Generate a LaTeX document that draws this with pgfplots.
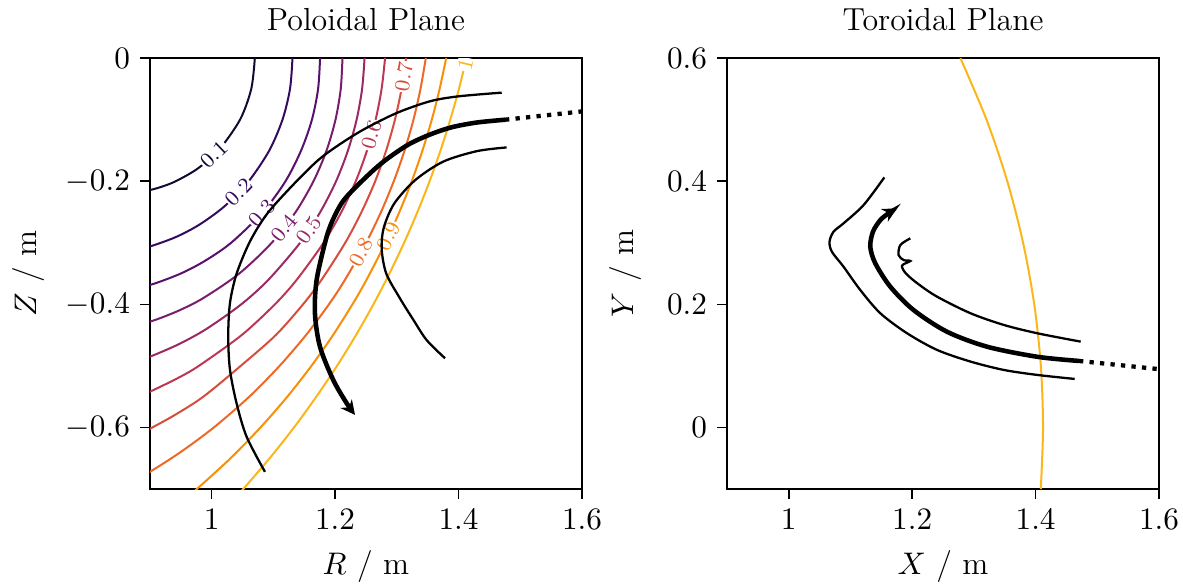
\documentclass[border=0pt]{standalone}
\usepackage{pgfplots}
\pgfplotsset{compat=1.18}
\usetikzlibrary{arrows.meta}
\definecolor{c01}{RGB}{18,10,50}
\definecolor{c02}{RGB}{50,10,94}
\definecolor{c03}{RGB}{87,16,110}
\definecolor{c04}{RGB}{120,28,109}
\definecolor{c05}{RGB}{154,40,99}
\definecolor{c06}{RGB}{188,55,84}
\definecolor{c07}{RGB}{213,77,61}
\definecolor{c08}{RGB}{237,105,37}
\definecolor{c09}{RGB}{249,142,9}
\definecolor{c10}{RGB}{251,182,26}
\tikzset{clab/.style={font=\fontsize{7.5}{8}\selectfont, fill=white, inner sep=0.4pt}}
\newcommand{\bigf}{\fontsize{11.2}{13.4}\selectfont}
\begin{document}
\begin{tikzpicture}
\pgfplotsset{
  myax/.style={scale only axis, width=151.6pt, height=151.2pt,
    xmin=0.9, xmax=1.6, xtick={1,1.2,1.4,1.6},
    tick align=outside, major tick length=3.5pt,
    xtick pos=left, ytick pos=left,
    axis line style={line width=0.6pt, black},
    tick style={line width=0.6pt, black},
    title style={font=\bigf},
    label style={font=\bigf},
    tick label style={font=\bigf},
  },
}
\begin{axis}[myax, name=ax1, at={(0pt,0pt)}, anchor=south west,
  ymin=-0.7, ymax=0, ytick={-0.6,-0.4,-0.2,0},
  title={Poloidal Plane},
  xlabel={$R$ / m}, ylabel={$Z$ / m},
  xlabel style={at={(axis description cs:0.5,-0.18)}, anchor=center},
  ylabel style={at={(axis description cs:-0.282,0.5)}, anchor=center, rotate=0},
]
\addplot[smooth, no markers, line width=0.7pt, c01] coordinates {(1.070,0) (1.0642,-0.05) (1.046,-0.1) (1.011,-0.15) (0.9765,-0.18) (0.9417,-0.2) (0.9187,-0.209) (0.901,-0.214) (0.880,-0.218)};
\addplot[smooth, no markers, line width=0.7pt, c02] coordinates {(1.131,0) (1.127,-0.05) (1.1148,-0.1) (1.0934,-0.15) (1.060,-0.2) (1.0216,-0.24) (0.9809,-0.27) (0.9434,-0.29) (0.903,-0.305) (0.8746,-0.312)};
\addplot[smooth, no markers, line width=0.7pt, c03] coordinates {(1.1757,0) (1.1725,-0.05) (1.1625,-0.1) (1.145,-0.15) (1.1196,-0.2) (1.083,-0.25) (1.0315,-0.3) (0.988,-0.33) (0.9497,-0.35) (0.9079,-0.366) (0.8747,-0.375)};
\addplot[smooth, no markers, line width=0.7pt, c04] coordinates {(1.2120,0) (1.2092,-0.05) (1.2007,-0.1) (1.1862,-0.15) (1.165,-0.2) (1.1361,-0.25) (1.0973,-0.3) (1.0446,-0.35) (0.9861,-0.39) (0.9470,-0.41) (0.9093,-0.425) (0.8763,-0.435)};
\addplot[smooth, no markers, line width=0.7pt, c05] coordinates {(1.2478,0) (1.2438,-0.05) (1.2349,-0.1) (1.2209,-0.15) (1.2016,-0.2) (1.176,-0.25) (1.1433,-0.3) (1.092,-0.36) (1.0479,-0.4) (0.9914,-0.44) (0.9461,-0.465) (0.900,-0.485) (0.8714,-0.495)};
\addplot[smooth, no markers, line width=0.7pt, c06] coordinates {(1.281,0) (1.2754,-0.05) (1.2657,-0.1) (1.2518,-0.15) (1.2335,-0.2) (1.2102,-0.25) (1.1813,-0.3) (1.1379,-0.36) (1.1024,-0.4) (1.0485,-0.45) (0.9791,-0.5) (0.9447,-0.52) (0.8998,-0.542) (0.881,-0.55)};
\addplot[smooth, no markers, line width=0.7pt, c07] coordinates {(1.315,0) (1.3077,-0.05) (1.297,-0.1) (1.2828,-0.15) (1.265,-0.2) (1.2428,-0.25) (1.2164,-0.3) (1.1781,-0.36) (1.148,-0.4) (1.1038,-0.45) (1.047,-0.5) (0.9865,-0.55) (0.9398,-0.58) (0.9001,-0.602) (0.8841,-0.61)};
\addplot[smooth, no markers, line width=0.7pt, c08] coordinates {(1.347,0) (1.3384,-0.05) (1.327,-0.1) (1.3126,-0.15) (1.2951,-0.2) (1.2744,-0.25) (1.2502,-0.3) (1.2161,-0.36) (1.190,-0.4) (1.1528,-0.45) (1.110,-0.5) (1.061,-0.55) (1.0035,-0.6) (0.9496,-0.64) (0.900,-0.672) (0.8499,-0.7)};
\addplot[smooth, no markers, line width=0.7pt, c09] coordinates {(1.380,0) (1.3694,-0.05) (1.3567,-0.1) (1.3416,-0.15) (1.3242,-0.2) (1.3042,-0.25) (1.2817,-0.3) (1.251,-0.36) (1.2281,-0.4) (1.1966,-0.45) (1.1616,-0.5) (1.1226,-0.55) (1.0791,-0.6) (1.0306,-0.65) (0.976,-0.7) (0.9522,-0.72)};
\addplot[smooth, no markers, line width=0.7pt, c10] coordinates {(1.413,0) (1.4007,-0.05) (1.3866,-0.1) (1.3708,-0.15) (1.3531,-0.2) (1.3334,-0.25) (1.3118,-0.3) (1.288,-0.35) (1.2621,-0.4) (1.2338,-0.45) (1.2031,-0.5) (1.1696,-0.55) (1.1334,-0.6) (1.094,-0.65) (1.0512,-0.7) (1.033,-0.72)};
\node[clab, text=c01, rotate=44] at (axis cs:1.004,-0.157) {0.1};
\node[clab, text=c02, rotate=46] at (axis cs:1.0445,-0.218) {0.2};
\node[clab, text=c03, rotate=48.5] at (axis cs:1.0815,-0.252) {0.3};
\node[clab, text=c04, rotate=51] at (axis cs:1.117,-0.276) {0.4};
\node[clab, text=c05, rotate=56] at (axis cs:1.158,-0.279) {0.5};
\node[clab, text=c06, rotate=74.5] at (axis cs:1.2593,-0.125) {0.6};
\node[clab, text=c07, rotate=81.3] at (axis cs:1.3111,-0.03) {0.7};
\node[clab, text=c08, rotate=61.4] at (axis cs:1.2422,-0.315) {0.8};
\node[clab, text=c09, rotate=65] at (axis cs:1.2869,-0.289) {0.9};
\node[clab, text=c10, rotate=76.8] at (axis cs:1.4112,-0.01) {1};
\addplot[smooth, no markers, line width=0.8pt, black] coordinates {(1.470,-0.056) (1.40,-0.062) (1.354,-0.070) (1.300,-0.089) (1.246,-0.116) (1.203,-0.143) (1.170,-0.168) (1.127,-0.211) (1.089,-0.254) (1.062,-0.298) (1.0405,-0.350) (1.0297,-0.398) (1.0269,-0.452) (1.0297,-0.506) (1.0405,-0.561) (1.0567,-0.615) (1.0864,-0.672)};
\addplot[smooth, no markers, line width=1.6pt, black, -{Stealth[length=5pt, width=5pt]}] coordinates {(1.4754,-0.100) (1.43,-0.1045) (1.39,-0.112) (1.354,-0.124) (1.316,-0.142) (1.27,-0.175) (1.2188,-0.225) (1.20,-0.255) (1.1864,-0.29) (1.1702,-0.36) (1.1674,-0.4145) (1.1755,-0.4686) (1.197,-0.5227) (1.2188,-0.5606) (1.2323,-0.5795)};
\addplot[no markers, line width=1.5pt, black, dash pattern=on 1.5pt off 2.2pt] coordinates {(1.4754,-0.100) (1.6,-0.0865)};
\addplot[smooth, no markers, line width=0.8pt, black] coordinates {(1.478,-0.145) (1.43,-0.151) (1.3754,-0.168) (1.33,-0.198) (1.296,-0.236) (1.279,-0.275) (1.2755,-0.31) (1.283,-0.35) (1.305,-0.39) (1.3268,-0.425) (1.3484,-0.458) (1.3781,-0.4875)};
\end{axis}
\begin{axis}[myax, name=ax2, at={(202.5pt,0pt)}, anchor=south west,
  ymin=-0.1, ymax=0.6, ytick={0,0.2,0.4,0.6},
  title={Toroidal Plane},
  xlabel={$X$ / m}, ylabel={$Y$ / m},
  xlabel style={at={(axis description cs:0.5,-0.18)}, anchor=center},
  ylabel style={at={(axis description cs:-0.236,0.5)}, anchor=center, rotate=0},
]
\addplot[smooth, no markers, line width=0.7pt, c10] coordinates {(1.4084,-0.1) (1.412,0) (1.4085,0.1) (1.3978,0.2) (1.3797,0.3) (1.3541,0.4) (1.3205,0.5) (1.2782,0.6)};
\addplot[smooth, no markers, line width=1.6pt, black, -{Stealth[length=5pt, width=5pt]}] coordinates {(1.4703,0.1081) (1.4027,0.1149) (1.3216,0.1312) (1.2566,0.1555) (1.2024,0.1907) (1.1646,0.2287) (1.1403,0.2666) (1.1321,0.2937) (1.1365,0.3181) (1.1484,0.3370) (1.1618,0.3479) (1.1753,0.3560)};
\addplot[no markers, line width=1.5pt, black, dash pattern=on 1.5pt off 2.2pt] coordinates {(1.4703,0.1081) (1.6,0.0948)};
\addplot[smooth, no markers, line width=0.8pt, black] coordinates {(1.473,0.1395) (1.4027,0.1531) (1.3485,0.1666) (1.2945,0.1856) (1.2404,0.2125) (1.2100,0.2330) (1.1900,0.2500) (1.1836,0.2630) (1.1970,0.2705) (1.1862,0.2720) (1.1780,0.2802) (1.1808,0.2964) (1.1970,0.3073)};
\addplot[smooth, no markers, line width=0.8pt, black] coordinates {(1.4633,0.0789) (1.4027,0.0854) (1.3485,0.0935) (1.2945,0.1071) (1.2404,0.1260) (1.1917,0.1531) (1.1484,0.1856) (1.1159,0.2234) (1.0888,0.2612) (1.0699,0.2856) (1.0661,0.3019) (1.0726,0.3181) (1.0888,0.3317) (1.1213,0.3614) (1.1549,0.4063)};
\end{axis}
\pgfresetboundingbox
\path[use as bounding box] (-52.6pt,-33.0pt) rectangle (362.5pt,171.6pt);
\end{tikzpicture}
\end{document}
